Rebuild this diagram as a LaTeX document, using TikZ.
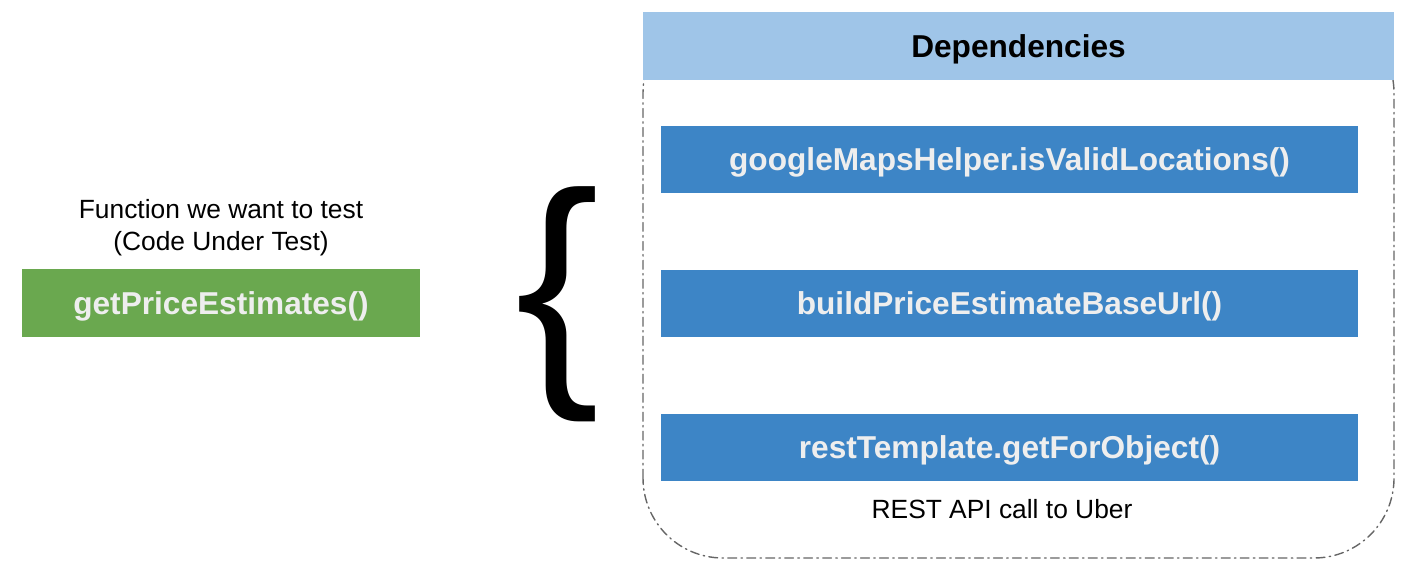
\documentclass[tikz,border=0pt]{standalone}
\usepackage{graphicx}
\usepackage{fontspec}
\setmainfont{Liberation Sans}
\usetikzlibrary{positioning}
\definecolor{depblue}{HTML}{3D85C6}
\definecolor{headblue}{HTML}{9FC5E8}
\definecolor{cutgreen}{HTML}{6AA84F}
\definecolor{labelwhite}{HTML}{EEEEEE}
\definecolor{framegray}{HTML}{666666}

\begin{document}
\begin{tikzpicture}[line cap=round,line join=round,
  funcbox/.style={minimum width=13.94cm,minimum height=1.34cm,inner sep=0pt,fill=depblue,
    text=labelwhite,text depth=0pt,font=\fontsize{18}{21}\selectfont\bfseries},
  plaintext/.style={font=\fontsize{15}{18.1}\selectfont,align=center,inner sep=0pt}]
  \useasboundingbox (0,0) rectangle (28.24,11.6);
  % 依赖外框
  \draw[framegray,line width=0.8pt,dash pattern=on 5pt off 2.5pt on 0.8pt off 2.5pt,rounded corners=1.6cm]
    (12.86,0.44) rectangle (27.88,11.34);
  \node[minimum width=15.02cm,minimum height=1.36cm,inner sep=0pt,fill=headblue,text depth=0pt,
    font=\fontsize{18}{21}\selectfont\bfseries] (deps) at (20.37,10.68) {Dependencies};
  % 三个依赖
  \node[funcbox] (maps) at (20.19,8.41) {googleMapsHelper.isValidLocations()};
  \node[funcbox] (baseurl) at (20.19,5.53) {buildPriceEstimateBaseUrl()};
  \node[funcbox] (rest) at (20.19,2.65) {restTemplate.getForObject()};
  \node[plaintext] (uber) at (20.04,1.42) {REST API call to Uber};
  % 被测函数
  \node[minimum width=7.96cm,minimum height=1.36cm,inner sep=0pt,fill=cutgreen,text depth=0pt,
    text=labelwhite,font=\fontsize{18}{21}\selectfont\bfseries] (price) at (4.42,5.54) {getPriceEstimates()};
  \node[plaintext] (cut) at (4.42,7.04) {Function we want to test\\(Code Under Test)};
  % 大括号
  \node[inner sep=0pt] (brace) at (11.15,5.52) {\resizebox*{!}{4.7cm}{\{}};
\end{tikzpicture}
\end{document}
